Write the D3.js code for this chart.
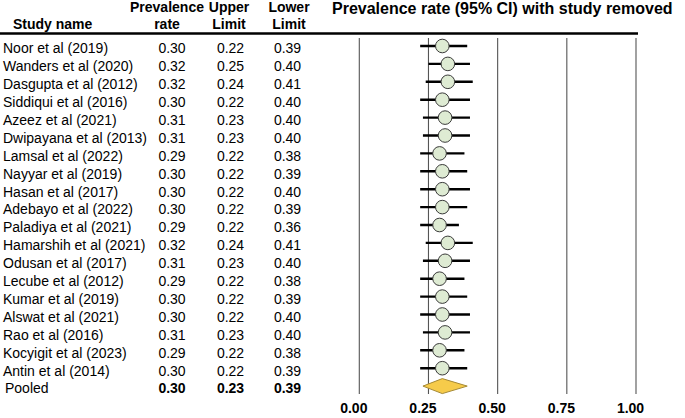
<!DOCTYPE html>
<html><head><meta charset="utf-8">
<script src="https://cdn.jsdelivr.net/npm/d3@7"></script>
<style>body{margin:0;background:#fff}svg{display:block}text{font-family:"Liberation Sans",Arial,Helvetica,sans-serif;fill:#000}</style>
</head><body><svg id="c" width="685" height="418"></svg>
<script>
const studies = ["Noor et al (2019)","Wanders et al (2020)","Dasgupta et al (2012)","Siddiqui et al (2016)","Azeez et al (2021)","Dwipayana et al (2013)","Lamsal et al (2022)","Nayyar et al (2019)","Hasan et al (2017)","Adebayo et al (2022)","Paladiya et al (2021)","Hamarshih et al (2021)","Odusan et al (2017)","Lecube et al (2012)","Kumar et al (2019)","Alswat et al (2021)","Rao et al (2016)","Kocyigit et al (2023)","Antin et al (2014)"];
const rate       = [0.30,0.32,0.32,0.30,0.31,0.31,0.29,0.30,0.30,0.30,0.29,0.32,0.31,0.29,0.30,0.30,0.31,0.29,0.30];
const upperLimit = [0.22,0.25,0.24,0.22,0.23,0.23,0.22,0.22,0.22,0.22,0.22,0.24,0.23,0.22,0.22,0.22,0.23,0.22,0.22];
const lowerLimit = [0.39,0.40,0.41,0.40,0.40,0.40,0.38,0.39,0.40,0.39,0.36,0.41,0.40,0.38,0.39,0.40,0.40,0.38,0.39];
const pooledLabel = "Pooled";
const pooledValues = [0.30, 0.23, 0.39]; // rate, upper limit, lower limit
const tickValues = [0, 0.25, 0.5, 0.75, 1];
const headers = [["Prevalence","rate"],["Upper","Limit"],["Lower","Limit"]];
const title = "Prevalence rate (95% CI) with study removed";

const svg = d3.select("#c");
const fmt = d3.format(".2f");
const x = d3.scaleLinear().domain([0,1]).range([359.3,636]);
const rows = d3.range(studies.length + 1);
const y = d3.scalePoint().domain(rows).range([46, 46 + studies.length*17.9]);

// header
svg.append("text").attr("x",13).attr("y",28.5).attr("font-size",14).attr("font-weight","bold").text("Study name");
const hcx = [167, 229, 289];
headers.forEach((h,i)=>{
  h.forEach((t,j)=>{
    svg.append("text").attr("x",hcx[i]).attr("y",12+j*16.5).attr("text-anchor","middle")
      .attr("font-size",14).attr("font-weight","bold").text(t);
  });
});
svg.append("text").attr("x",332).attr("y",13.5).attr("font-size",16).attr("font-weight","bold").text(title);
svg.append("line").attr("x1",0).attr("x2",638).attr("y1",33.5).attr("y2",33.5).attr("stroke","#000").attr("stroke-width",2.5);

// gridlines
svg.append("g").selectAll("line").data(tickValues).join("line")
  .attr("x1",d=>x(d)).attr("x2",d=>x(d)).attr("y1",38).attr("y2",394)
  .attr("stroke","#555").attr("stroke-width",1.1);

// axis
const axis = d3.axisBottom(x).tickValues(tickValues).tickFormat(fmt).tickSize(0).tickPadding(0);
const ag = svg.append("g").attr("transform","translate(-6,403)").call(axis);
ag.select(".domain").remove();
ag.selectAll("text").attr("font-size",14).attr("font-weight","bold").attr("font-family","Liberation Sans, Arial, sans-serif").attr("fill","#000");

// table text
const colX = [172, 230.5, 287.5];
const g = svg.append("g");
studies.forEach((s,i)=>{
  const yy = y(i) + 7.3;
  g.append("text").attr("x",3).attr("y",yy).attr("font-size",14).text(s);
  [rate[i], upperLimit[i], lowerLimit[i]].forEach((v,k)=>{
    g.append("text").attr("x",colX[k]).attr("y",yy).attr("text-anchor","middle").attr("font-size",14).text(fmt(v));
  });
});
const py = y(studies.length) + 7.3;
g.append("text").attr("x",5).attr("y",py).attr("font-size",14).text(pooledLabel);
pooledValues.forEach((v,k)=>{
  g.append("text").attr("x",colX[k]).attr("y",py).attr("text-anchor","middle").attr("font-size",14).attr("font-weight","bold").text(fmt(v));
});

// CI lines and points
const pg = svg.append("g");
pg.selectAll("line").data(studies).join("line")
  .attr("x1",(d,i)=>x(upperLimit[i])).attr("x2",(d,i)=>x(lowerLimit[i]))
  .attr("y1",(d,i)=>y(i)).attr("y2",(d,i)=>y(i))
  .attr("stroke","#000").attr("stroke-width",2.4);
pg.selectAll("circle").data(studies).join("circle")
  .attr("cx",(d,i)=>x(rate[i])).attr("cy",(d,i)=>y(i)).attr("r",6.8)
  .attr("fill","#deebd3").attr("stroke","#3a3a3a").attr("stroke-width",1);

// pooled diamond
const dy = y(studies.length);
const [pr, pu, pl] = pooledValues;
svg.append("path")
  .attr("d",`M${x(pu)},${dy} L${x(pr)},${dy-7.5} L${x(pl)},${dy} L${x(pr)},${dy+7.5} Z`)
  .attr("fill","#f6cb4a").attr("stroke","#a68a35").attr("stroke-width",1);
</script></body></html>
